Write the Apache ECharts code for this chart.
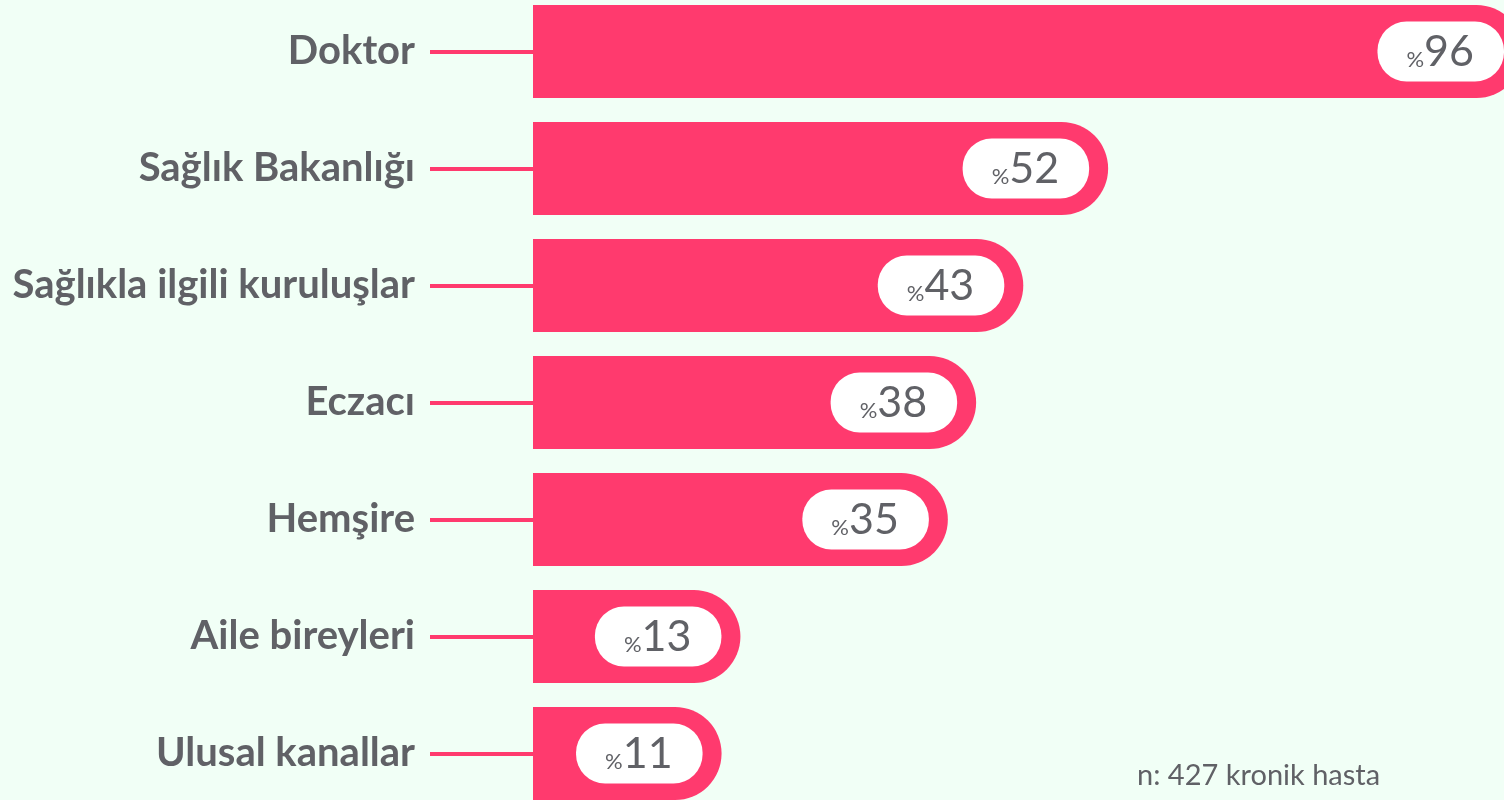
<!DOCTYPE html>
<html>
<head>
<meta charset="utf-8">
<script src="https://cdn.jsdelivr.net/npm/echarts@6/dist/echarts.min.js"></script>
<style>
html,body{margin:0;padding:0;background:#F1FFF6;}
#chart{width:1504px;height:800px;}
</style>
</head>
<body>
<div id="chart"></div>
<script>
var categories = ['Doktor', 'Sağlık Bakanlığı', 'Sağlıkla ilgili kuruluşlar', 'Eczacı', 'Hemşire', 'Aile bireyleri', 'Ulusal kanallar'];
var values = [96, 52, 43, 38, 35, 13, 11];
var footnote = 'n: 427 kronik hasta';
var baseOffset = 9; // visual lead-in of each bar before its value part

var PINK = '#FF3A6E';
var GRAY = '#606166';

var chart = echarts.init(document.getElementById('chart'));
chart.setOption({
  backgroundColor: '#F1FFF6',
  animation: false,
  grid: { left: 533, right: -19, top: -7, bottom: -12, outerBoundsMode: 'none', containLabel: false },
  xAxis: {
    type: 'value', min: 0, max: 105,
    show: false
  },
  yAxis: {
    type: 'category',
    inverse: true,
    data: categories,
    axisLine: { show: false },
    axisTick: { show: true, alignWithLabel: true, length: 103, lineStyle: { color: PINK, width: 4 } },
    axisLabel: {
      margin: 118,
      color: GRAY,
      fontFamily: 'Lato',
      fontWeight: 'bold',
      fontSize: 40
    },
    splitLine: { show: false }
  },
  series: [
    {
      type: 'bar',
      barWidth: 93,
      itemStyle: { color: PINK, borderRadius: [0, 47, 47, 0] },
      data: values.map(function (v) { return v + baseOffset; }),
      label: {
        show: true,
        position: 'insideRight',
        distance: 19,
        backgroundColor: '#FFFFFF',
        borderRadius: 29,
        padding: [8, 30, 8, 29],
        formatter: function (p) { return '{p|%}{n|' + values[p.dataIndex] + '}'; },
        rich: {
          p: { fontFamily: 'Lato', fontSize: 22, color: GRAY, lineHeight: 44, verticalAlign: 'bottom', padding: [0, 0, 3, 0] },
          n: { fontFamily: 'Lato', fontSize: 43, color: GRAY, lineHeight: 44, verticalAlign: 'bottom' }
        }
      }
    }
  ],
  graphic: [
    {
      type: 'text',
      left: 1137, top: 761,
      style: { text: footnote, fill: GRAY, font: '29px Lato' }
    }
  ]
});
</script>
</body>
</html>
